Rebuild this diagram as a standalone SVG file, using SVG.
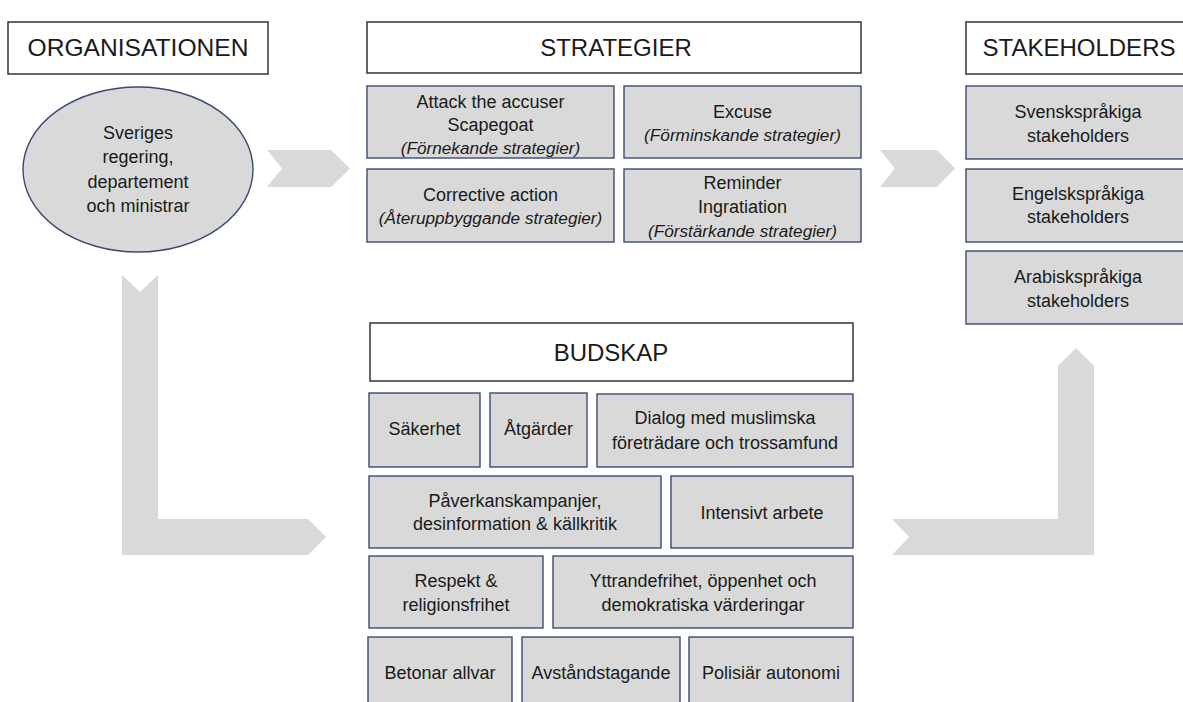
<svg xmlns="http://www.w3.org/2000/svg" width="1183" height="702" viewBox="0 0 1183 702">
<style>
text{font-family:"Liberation Sans",Arial,sans-serif;fill:#1a1a1a;text-anchor:middle}
.h{font-size:24px}
.t{font-size:18px}
.i{font-style:italic;font-size:17.2px}
.hd{fill:#ffffff;stroke:#404040;stroke-width:1.6}
.bx{fill:#d9d9d9;stroke:#3b4a72;stroke-width:1.4}
.ar{fill:#d9d9d9;stroke:none}
</style>
<rect width="1183" height="702" fill="#ffffff"/>
<g id="connectors">
<polygon class="ar" points="267,150 331,150 350,168.5 331,187 267,187 282,168.5"/>
<polygon class="ar" points="880,150 937,150 955,168.5 937,187 880,187 895,168.5"/>
<polygon class="ar" points="122,275 140,292 158,275 158,519 308,519 326,537 308,555 122,555"/>
<polygon class="ar" points="892,519 1058,519 1058,366 1076,348 1094,366 1094,555 892,555 909,537"/>
</g>
<g id="organisationen">
<rect class="hd" x="8" y="22" width="260" height="52"/>
<text class="h" x="138" y="56" style="font-size:24.6px">ORGANISATIONEN</text>
</g>
<g id="sveriges-regering">
<ellipse class="bx" cx="138" cy="169.5" rx="115" ry="82.5"/>
<text class="t" x="138" y="139">Sveriges</text>
<text class="t" x="138" y="163">regering,</text>
<text class="t" x="138" y="188">departement</text>
<text class="t" x="138" y="212">och ministrar</text>
</g>
<g id="strategier">
<rect class="hd" x="367" y="22" width="494" height="51"/>
<text class="h" x="616" y="56">STRATEGIER</text>
</g>
<g id="attack">
<rect class="bx" x="367" y="86" width="247" height="72"/>
<text class="t" x="490.5" y="108">Attack the accuser</text>
<text class="t" x="490.5" y="131">Scapegoat</text>
<text class="t i" x="490.5" y="154">(Förnekande strategier)</text>
</g>
<g id="excuse">
<rect class="bx" x="624" y="86" width="237" height="72"/>
<text class="t" x="742.5" y="118">Excuse</text>
<text class="t i" x="742.5" y="141">(Förminskande strategier)</text>
</g>
<g id="corrective">
<rect class="bx" x="367" y="169" width="247" height="73"/>
<text class="t" x="490.5" y="201">Corrective action</text>
<text class="t i" x="490.5" y="224">(Återuppbyggande strategier)</text>
</g>
<g id="reminder">
<rect class="bx" x="624" y="169" width="237" height="73"/>
<text class="t" x="742.5" y="189">Reminder</text>
<text class="t" x="742.5" y="213">Ingratiation</text>
<text class="t i" x="742.5" y="237">(Förstärkande strategier)</text>
</g>
<g id="stakeholders">
<rect class="hd" x="966" y="22" width="230" height="52"/>
<text class="h" x="1079" y="56">STAKEHOLDERS</text>
</g>
<g id="svensk">
<rect class="bx" x="966" y="86" width="230" height="73"/>
<text class="t" x="1078" y="118">Svenskspråkiga</text>
<text class="t" x="1078" y="142">stakeholders</text>
</g>
<g id="engelsk">
<rect class="bx" x="966" y="169" width="230" height="73"/>
<text class="t" x="1078" y="200">Engelskspråkiga</text>
<text class="t" x="1078" y="223">stakeholders</text>
</g>
<g id="arabisk">
<rect class="bx" x="966" y="251" width="230" height="73"/>
<text class="t" x="1078" y="283">Arabiskspråkiga</text>
<text class="t" x="1078" y="307">stakeholders</text>
</g>
<g id="budskap">
<rect class="hd" x="370" y="323" width="483" height="58"/>
<text class="h" x="611" y="361">BUDSKAP</text>
</g>
<g id="sakerhet">
<rect class="bx" x="369" y="393" width="111" height="74"/>
<text class="t" x="424.5" y="435">Säkerhet</text>
</g>
<g id="atgarder">
<rect class="bx" x="490" y="393" width="97" height="74"/>
<text class="t" x="538.5" y="435">Åtgärder</text>
</g>
<g id="dialog">
<rect class="bx" x="597" y="394" width="256" height="73"/>
<text class="t" x="725" y="424">Dialog med muslimska</text>
<text class="t" x="725" y="449">företrädare och trossamfund</text>
</g>
<g id="paverkan">
<rect class="bx" x="369" y="476" width="292" height="72"/>
<text class="t" x="515" y="507">Påverkanskampanjer,</text>
<text class="t" x="515" y="530">desinformation &amp; källkritik</text>
</g>
<g id="intensivt">
<rect class="bx" x="671" y="476" width="182" height="72"/>
<text class="t" x="762" y="519">Intensivt arbete</text>
</g>
<g id="respekt">
<rect class="bx" x="369" y="556" width="174" height="72"/>
<text class="t" x="456" y="587">Respekt &amp;</text>
<text class="t" x="456" y="611">religionsfrihet</text>
</g>
<g id="yttrandefrihet">
<rect class="bx" x="553" y="556" width="300" height="72"/>
<text class="t" x="703" y="587">Yttrandefrihet, öppenhet och</text>
<text class="t" x="703" y="611">demokratiska värderingar</text>
</g>
<g id="betonar">
<rect class="bx" x="368" y="637" width="144" height="75"/>
<text class="t" x="440" y="679">Betonar allvar</text>
</g>
<g id="avstand">
<rect class="bx" x="522" y="637" width="158" height="75"/>
<text class="t" x="601" y="679">Avståndstagande</text>
</g>
<g id="polisiar">
<rect class="bx" x="689" y="637" width="164" height="75"/>
<text class="t" x="771" y="679">Polisiär autonomi</text>
</g>
</svg>
